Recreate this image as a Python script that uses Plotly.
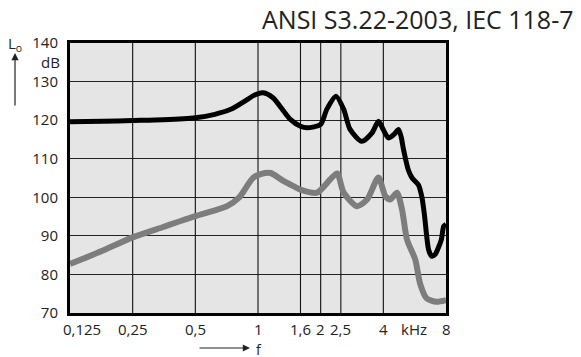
import numpy as np
import plotly.graph_objects as go

# ---- data ----
black_f = [0.125, 0.18, 0.25, 0.35, 0.5, 0.62, 0.74, 0.88, 0.97, 1.06, 1.18, 1.33, 1.43, 1.6, 1.72,
           2.0, 2.14, 2.37, 2.58, 2.77, 3.15, 3.53, 3.79, 4.0, 4.23, 4.5, 4.73, 4.88, 5.0, 5.28,
           5.5, 5.9, 6.13, 6.3, 6.6, 6.83, 7.1, 7.35, 7.6, 7.8, 8.0]
black_db = [119.6, 119.7, 119.9, 120.1, 120.6, 121.5, 122.8, 125.2, 126.6, 127.1, 125.8, 122.3, 120.2, 118.4, 118.0,
            118.9, 122.8, 126.2, 122.8, 117.6, 114.5, 116.7, 119.7, 117.5, 115.4, 116.3, 117.6, 115.5, 112.4, 107.0,
            105.0, 103.2, 100.0, 95.5, 86.4, 84.7, 85.2, 86.9, 89.0, 92.5, 93.0]

gray_f = [0.125, 0.18, 0.25, 0.35, 0.5, 0.62, 0.71, 0.81, 0.95, 1.08, 1.15, 1.33, 1.48, 1.6, 1.92,
          2.22, 2.4, 2.58, 2.99, 3.34, 3.79, 4.09, 4.32, 4.65, 4.92, 5.2, 5.7, 6.0, 6.46, 7.2, 8.0]
gray_db = [82.7, 86.2, 89.6, 92.3, 95.1, 96.6, 97.7, 99.9, 105.1, 106.3, 106.3, 104.2, 102.9, 102.0, 101.2,
           104.6, 106.2, 101.2, 97.7, 99.4, 105.1, 100.3, 99.4, 101.2, 96.8, 89.0, 83.8, 77.7, 73.8, 72.9, 73.3]

x_tick_vals = [0.125, 0.25, 0.5, 1, 1.6, 2, 2.5, 4, 5.6, 8]
x_tick_text = ["0,125", "0,25", "0,5", "1", "1,6", "2", "2,5", "4", "kHz", "8"]
x_grid_vals = [0.25, 0.5, 1, 1.6, 2, 2.5, 4]
y_tick_vals = [70, 80, 90, 100, 110, 120, 130, 140]

title_text = "ANSI S3.22-2003, IEC 118-7"

# ---- figure ----
ML, MR, MT, MB = 70, 135, 43, 44
W, H = 581, 357
PW, PH = W - ML - MR, H - MT - MB


def px(x):
    return (x - ML) / PW


def py(y):
    return (H - MB - y) / PH


fig = go.Figure()

# vertical grid lines
gx, gy = [], []
for g in x_grid_vals:
    gx += [g, g, None]
    gy += [70, 140, None]
fig.add_trace(go.Scatter(x=gx, y=gy, mode="lines", line=dict(color="#111111", width=1.1),
                         hoverinfo="skip", showlegend=False))

fig.add_trace(go.Scatter(x=gray_f, y=gray_db, mode="lines",
                         line=dict(color="#7d7d7d", width=6, shape="spline", smoothing=0.7),
                         showlegend=False))
fig.add_trace(go.Scatter(x=black_f, y=black_db, mode="lines",
                         line=dict(color="#000000", width=5, shape="spline", smoothing=0.7),
                         showlegend=False))

fig.update_xaxes(type="log", range=[np.log10(0.125), np.log10(8)], showgrid=False,
                 showticklabels=False, showline=True, mirror=True, linecolor="black",
                 linewidth=3, zeroline=False, ticks="")
fig.update_yaxes(range=[70, 140], tickvals=y_tick_vals, showgrid=True, gridcolor="#222222",
                 gridwidth=1, showline=True, mirror=True, linecolor="black", linewidth=3,
                 zeroline=False, ticks="", ticklabelstandoff=6,
                 tickfont=dict(family="Open Sans", size=15, color="#222222"))

ann = []
for v, t in zip(x_tick_vals, x_tick_text):
    ann.append(dict(x=np.log10(v), y=py(329), xref="x", yref="paper", text=t, showarrow=False,
                    xanchor="center", yanchor="middle", xshift=12 if v == 0.125 else 0,
                    height=16,
                    font=dict(family="Open Sans", size=15, color="#222222")))

ann.append(dict(x=px(62), y=py(62), xref="paper", yref="paper", text="dB", showarrow=False,
                xanchor="right", yanchor="middle",
                font=dict(family="Open Sans", size=15, color="#222222")))
ann.append(dict(x=px(576), y=py(19), xref="paper", yref="paper", text=title_text, showarrow=False,
                xanchor="right", yanchor="middle",
                font=dict(family="Open Sans", size=25, color="#222222")))
ann.append(dict(x=px(15), y=py(44), xref="paper", yref="paper", text="L<sub>o</sub>",
                showarrow=False, xanchor="center", yanchor="middle",
                font=dict(family="Open Sans", size=15, color="#222222")))
ann.append(dict(x=px(15), y=py(53), xref="paper", yref="paper", text="", showarrow=True,
                ax=0, ay=54, arrowhead=2, arrowsize=1.2, arrowwidth=1.2, arrowcolor="#222222"))
ann.append(dict(x=px(250), y=py(348), xref="paper", yref="paper", text="", showarrow=True,
                ax=-52, ay=0, arrowhead=2, arrowsize=1.2, arrowwidth=1.2, arrowcolor="#222222"))
ann.append(dict(x=px(259), y=py(348.5), xref="paper", yref="paper", text="f", showarrow=False,
                xanchor="center", yanchor="middle", height=14,
                font=dict(family="Open Sans", size=14, color="#222222")))

fig.update_layout(width=W, height=H, margin=dict(l=ML, r=MR, t=MT, b=MB),
                  plot_bgcolor="#e5e5e5", paper_bgcolor="white", annotations=ann,
                  showlegend=False)

fig.write_html("out.html")
